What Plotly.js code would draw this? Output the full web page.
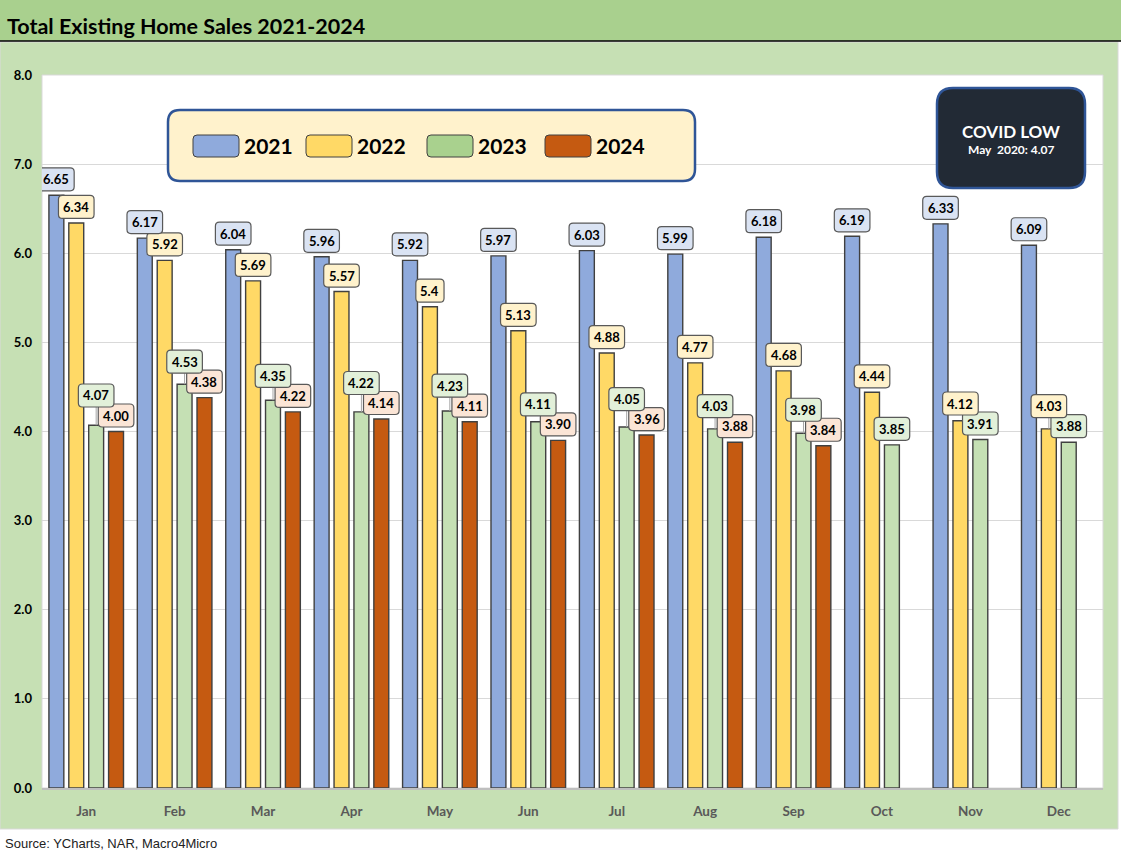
<!DOCTYPE html>
<html>
<head>
<meta charset="utf-8">
<script src="https://cdn.plot.ly/plotly-3.0.1.min.js"></script>
<style>
  html, body { margin: 0; padding: 0; background: #ffffff; }
  #chart { width: 1121px; height: 863px; }
</style>
</head>
<body>
<div id="chart"></div>
<script>
// ---------------- DATA ----------------
const months = ['Jan', 'Feb', 'Mar', 'Apr', 'May', 'Jun', 'Jul', 'Aug', 'Sep', 'Oct', 'Nov', 'Dec'];
const years = ['2021', '2022', '2023', '2024'];
const sales2021 = [6.65, 6.17, 6.04, 5.96, 5.92, 5.97, 6.03, 5.99, 6.18, 6.19, 6.33, 6.09];
const sales2022 = [6.34, 5.92, 5.69, 5.57, 5.4, 5.13, 4.88, 4.77, 4.68, 4.44, 4.12, 4.03];
const sales2023 = [4.07, 4.53, 4.35, 4.22, 4.23, 4.11, 4.05, 4.03, 3.98, 3.85, 3.91, 3.88];
const sales2024 = [4.00, 4.38, 4.22, 4.14, 4.11, 3.90, 3.96, 3.88, 3.84, null, null, null];
const yTicks = [0, 1, 2, 3, 4, 5, 6, 7, 8];
const chartTitle = 'Total Existing Home Sales 2021-2024';
const noteTitle = 'COVID LOW';
const noteText = 'May  2020: 4.07';
const sourceText = 'Source: YCharts, NAR, Macro4Micro';

// ---------------- STYLE ----------------
const W = 1121, H = 863;
const M = { l: 42, r: 18, t: 75, b: 75 };
const PW = W - M.l - M.r, PH = H - M.t - M.b;
const yMax = 8;
const bargap = 0.1;
const slot = (1 - bargap) / 4;
const pxPerX = PW / months.length;
const pxPerY = PH / yMax;
const FONT = 'Lato, "Open Sans", sans-serif';

const series = [
  { name: years[0], values: sales2021, bar: '#8faadc', swatch: '#8faadc', labelBg: '#dae3f3', fmt: v => v.toFixed(2) },
  { name: years[1], values: sales2022, bar: '#ffd966', swatch: '#ffd966', labelBg: '#fff2cc', fmt: v => String(v) },
  { name: years[2], values: sales2023, bar: '#c5e0b4', swatch: '#a9d18e', labelBg: '#e2f0d9', fmt: v => v.toFixed(2) },
  { name: years[3], values: sales2024, bar: '#c55a11', swatch: '#c55a11', labelBg: '#fbe5d6', fmt: v => v.toFixed(2) }
];

// pixel (top-left origin) -> paper
const px2x = px => (px - M.l) / PW;
const py2y = py => (M.t + PH - py) / PH;

function rr(x0, y0, x1, y1, rx, ry) {
  return `M ${x0 + rx},${y0} L ${x1 - rx},${y0} Q ${x1},${y0} ${x1},${y0 + ry} ` +
         `L ${x1},${y1 - ry} Q ${x1},${y1} ${x1 - rx},${y1} L ${x0 + rx},${y1} ` +
         `Q ${x0},${y1} ${x0},${y1 - ry} L ${x0},${y0 + ry} Q ${x0},${y0} ${x0 + rx},${y0} Z`;
}
function paperRR(pxl, pyt, pxr, pyb, r) {
  return rr(px2x(pxl), py2y(pyb), px2x(pxr), py2y(pyt), r / PW, r / PH);
}

const traces = series.map(s => ({
  type: 'bar',
  name: s.name,
  x: months,
  y: s.values,
  marker: { color: s.bar, line: { color: '#404040', width: 1.4 } },
  hoverinfo: 'skip',
  showlegend: false
}));

const shapes = [];
const annotations = [];

// background panels
shapes.push({ type: 'rect', xref: 'paper', yref: 'paper', layer: 'below',
  x0: px2x(0), x1: px2x(1118), y0: py2y(829), y1: py2y(42),
  fillcolor: '#c6e0b4', line: { color: '#d9d9d9', width: 1 } });
shapes.push({ type: 'rect', xref: 'paper', yref: 'paper', layer: 'below',
  x0: px2x(0), x1: px2x(1121), y0: py2y(41), y1: py2y(0),
  fillcolor: '#a9d08e', line: { width: 0 } });
shapes.push({ type: 'line', xref: 'paper', yref: 'paper', layer: 'below',
  x0: px2x(0), x1: px2x(1121), y0: py2y(41), y1: py2y(41),
  line: { color: '#000000', width: 1.5 } });
shapes.push({ type: 'rect', xref: 'paper', yref: 'paper', layer: 'below',
  x0: 0, x1: 1, y0: 0, y1: 1, fillcolor: '#ffffff', line: { color: '#d9d9d9', width: 1 } });

// data labels
const LH = 23, GAP = 4.5, RAD = 4;
const charW = c => (c === '.' ? 3.4 : 7.4);
months.forEach((m, mi) => {
  let nextTop = null;
  for (let i = series.length - 1; i >= 0; i--) {
    const v = series[i].values[mi];
    if (v === null || v === undefined) { nextTop = null; continue; }
    const topPx = v * pxPerY;
    let bottom = topPx + GAP;
    if (nextTop !== null && bottom < nextTop - 3) bottom = nextTop - 3;
    const raised = bottom - (topPx + GAP);
    const txt = series[i].fmt(v);
    const wPx = txt.split('').reduce((a, c) => a + charW(c), 0) + 10;
    const cx = mi + (i - 1.5) * slot;
    const hx = (wPx / 2) / pxPerX;
    const y0 = v + (bottom - topPx) / pxPerY;
    const y1 = y0 + LH / pxPerY;
    if (raised > 6) {
      shapes.push({ type: 'line', xref: 'x', yref: 'y', x0: cx, x1: cx, y0: v, y1: y0,
        line: { color: '#a6a6a6', width: 1 } });
    }
    shapes.push({ type: 'path', xref: 'x', yref: 'y',
      path: rr(cx - hx, y0, cx + hx, y1, RAD / pxPerX, RAD / pxPerY),
      fillcolor: series[i].labelBg, line: { color: '#595959', width: 1.2 } });
    annotations.push({ xref: 'x', yref: 'y', x: cx, y: v, yshift: bottom - topPx + LH / 2,
      text: txt, showarrow: false, xanchor: 'center', yanchor: 'middle',
      font: { family: FONT, size: 13, color: '#000000', weight: 'bold' } });
    nextTop = bottom + LH;
  }
});

// legend
shapes.push({ type: 'path', xref: 'paper', yref: 'paper', path: paperRR(168, 110, 695, 181, 12),
  fillcolor: '#fff2cc', line: { color: '#2f5597', width: 2.5 } });
const legendX = [193, 306, 427, 545];
series.forEach((s, i) => {
  const x0 = legendX[i];
  shapes.push({ type: 'path', xref: 'paper', yref: 'paper', path: paperRR(x0, 135, x0 + 46, 157, 4),
    fillcolor: s.swatch, line: { color: '#404040', width: 1 } });
  annotations.push({ xref: 'paper', yref: 'paper', x: px2x(x0 + 49), y: py2y(146),
    xanchor: 'left', yanchor: 'middle', showarrow: false, text: s.name,
    font: { family: FONT, size: 21, color: '#000000', weight: 'bold' } });
});

// covid note
shapes.push({ type: 'path', xref: 'paper', yref: 'paper', path: paperRR(937, 88, 1085, 188, 16),
  fillcolor: '#222a35', line: { color: '#2f5597', width: 2.5 } });
annotations.push({ xref: 'paper', yref: 'paper', x: px2x(1011), y: py2y(131), showarrow: false,
  xanchor: 'center', yanchor: 'middle', text: noteTitle,
  font: { family: FONT, size: 17, color: '#ffffff', weight: 'bold' } });
annotations.push({ xref: 'paper', yref: 'paper', x: px2x(1011), y: py2y(150), showarrow: false,
  xanchor: 'center', yanchor: 'middle', text: noteText,
  font: { family: FONT, size: 12, color: '#ffffff', weight: 'bold' } });

// title and source
annotations.push({ xref: 'paper', yref: 'paper', x: px2x(5), y: py2y(26), showarrow: false,
  xanchor: 'left', yanchor: 'middle', text: chartTitle,
  font: { family: FONT, size: 21.5, color: '#000000', weight: 'bold' } });
annotations.push({ xref: 'paper', yref: 'paper', x: px2x(3), y: py2y(843), showarrow: false,
  xanchor: 'left', yanchor: 'middle', text: sourceText,
  font: { family: '"Liberation Sans", Arial, sans-serif', size: 13, color: '#222222' } });

const layout = {
  width: W, height: H,
  margin: M,
  paper_bgcolor: '#ffffff',
  plot_bgcolor: '#ffffff',
  barmode: 'group',
  bargap: bargap,
  bargroupgap: 0.25,
  showlegend: false,
  xaxis: {
    type: 'category', categoryorder: 'array', categoryarray: months,
    range: [-0.5, months.length - 0.5],
    showgrid: false, showline: true, linecolor: '#bfbfbf', linewidth: 2,
    ticks: '', ticklabelstandoff: 10,
    tickfont: { family: FONT, size: 13.5, color: '#595959', weight: 'bold' },
    fixedrange: true
  },
  yaxis: {
    range: [0, yMax], tickvals: yTicks, ticktext: yTicks.map(v => v.toFixed(1)),
    showgrid: true, gridcolor: '#d9d9d9', gridwidth: 1, zeroline: false,
    ticks: '', ticklabelstandoff: 9,
    tickfont: { family: FONT, size: 13, color: '#000000', weight: 'bold' },
    fixedrange: true
  },
  shapes: shapes,
  annotations: annotations
};

Plotly.newPlot('chart', traces, layout, { displayModeBar: false, staticPlot: true });
</script>
</body>
</html>
